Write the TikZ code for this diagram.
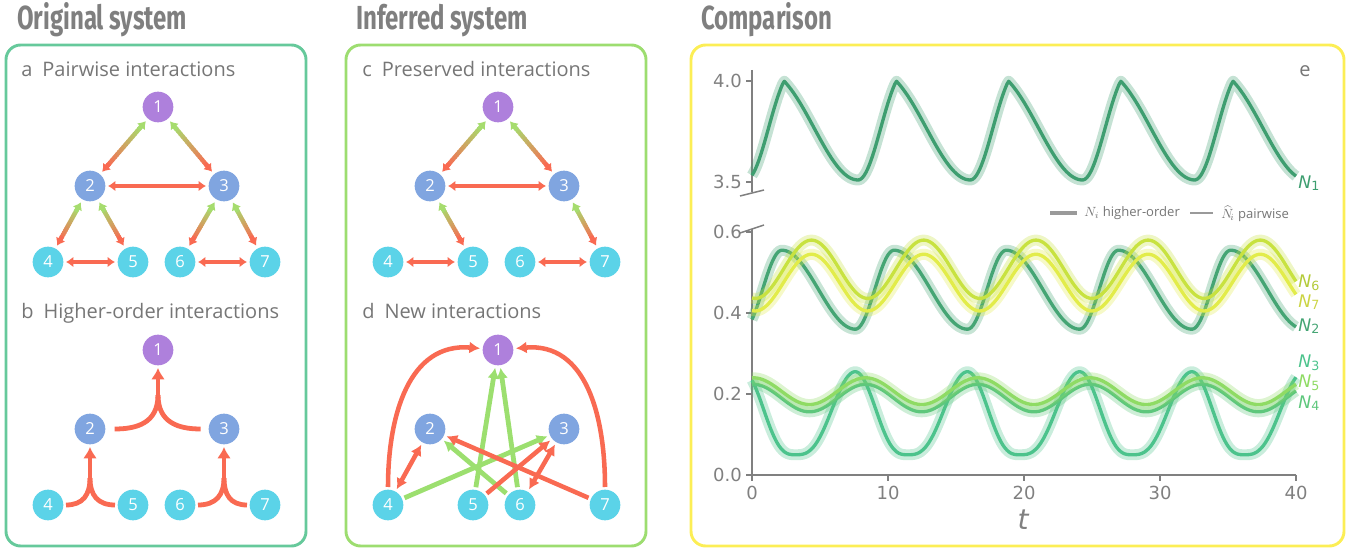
\documentclass[tikz,border=0pt]{standalone}
\usepackage{fontspec}
\setmainfont{Open Sans}
\newfontfamily\titlefont[FakeStretch=0.72]{Fira Sans}
\newfontfamily\plotfont{DejaVu Sans}
\usetikzlibrary{arrows.meta,calc}

\definecolor{boxorig}{HTML}{66C99B}
\definecolor{boxinf}{HTML}{9DDD70}
\definecolor{boxcmp}{HTML}{FCEE55}
\definecolor{titlegray}{HTML}{7F7F7F}
\definecolor{labelgray}{HTML}{767676}
\definecolor{nodepurple}{HTML}{AE80DC}
\definecolor{nodeblue}{HTML}{80A5E0}
\definecolor{nodecyan}{HTML}{5BD3E8}
\definecolor{edgegreen}{HTML}{A6DC6E}
\definecolor{edgered}{HTML}{F96A52}
\definecolor{newgreen}{HTML}{9CDF6F}
\definecolor{axisgray}{HTML}{808080}
\definecolor{cOne}{HTML}{3E9E70}
\definecolor{cTwo}{HTML}{45A574}
\definecolor{cThree}{HTML}{4CC38C}
\definecolor{cFour}{HTML}{5EC77C}
\definecolor{cFive}{HTML}{8FDB64}
\definecolor{cSix}{HTML}{C8E240}
\definecolor{cSeven}{HTML}{E2EC4A}

\tikzset{
  smalltip/.tip={Latex[length=5.5pt,width=8pt]},
  bigtip/.tip={Latex[length=8pt,width=9pt]},
  hypertip/.tip={Latex[length=8.5pt,width=10.5pt]},
  species/.style={circle, inner sep=0pt, minimum size=23pt, outer sep=2pt,
    text=white, font=\fontsize{12.4}{12.4}\selectfont},
  topsp/.style={species, fill=nodepurple},
  midsp/.style={species, fill=nodeblue},
  lowsp/.style={species, fill=nodecyan},
  panelbox/.style={line width=2.2pt, rounded corners=11pt},
  paneltitle/.style={anchor=base west, inner sep=0pt, text=titlegray,
    font=\titlefont\bfseries\fontsize{25}{25}\selectfont},
  panellabel/.style={anchor=base west, inner sep=0pt, text=labelgray,
    font=\fontsize{15}{15}\selectfont},
  pairlink/.style={edgered, line width=3.3pt, smalltip-smalltip},
  hyperline/.style={edgered, line width=3.6pt},
  newred/.style={edgered, line width=3.4pt},
  newgreenline/.style={newgreen, line width=3.6pt},
  ticklabel/.style={inner sep=0pt, text=axisgray, font=\plotfont\fontsize{13.5}{13.5}\selectfont},
  curvelabel/.style={anchor=west, inner sep=0pt},
  legendtext/.style={anchor=west, inner sep=0pt, text=labelgray, font=\fontsize{9.8}{9.8}\selectfont},
  hoband/.style={line width=8.2pt, opacity=0.3, line join=round},
  pwline/.style={line width=2.5pt, line join=round},
  declare function={
    skw(\p,\r)=ifthenelse(\p<\r, -cos(180*\p/\r), cos(180*(\p-\r)/(1-\r)));
    spk(\p,\r)=ifthenelse(\p<\r, 0.5*(1-cos(90*\p/\r))+0.25*(1-cos(180*\p/\r)),
      0.5*(1-sin(90*(\p-\r)/(1-\r)))+0.25*(1+cos(180*(\p-\r)/(1-\r))));
    ph(\t,\s)=mod(\t-\s+82.5,8.25)/8.25;
  }
}

% gradient double arrow: green end at #1, red end at #2
\newcommand{\gradlink}[2]{%
  \coordinate (gs) at ($(#1)!14pt!(#2)$);
  \coordinate (ge) at ($(#2)!14pt!(#1)$);
  \coordinate (gsb) at ($(gs)!4.5pt!(ge)$);
  \coordinate (geb) at ($(ge)!4.5pt!(gs)$);
  \foreach \k in {0,...,15}{
    \pgfmathsetmacro{\gmix}{100-\k*100/15}
    \draw[line width=3.3pt, edgegreen!\gmix!edgered]
      ($(gsb)!{\k/16}!(geb)$) -- ($(gsb)!{min(1,(\k+1.3)/16)}!(geb)$);
  }
  \draw[line width=3.3pt, edgegreen, -smalltip] ($(gs)!8pt!(ge)$) -- (gs);
  \draw[line width=3.3pt, edgered, -smalltip] ($(ge)!8pt!(gs)$) -- (ge);
}

% one species: higher-order band and pairwise line
\newcommand{\trace}[2]{%
  \draw[hoband, #1] plot[domain=0:40, samples=321] (\x, {#2});
  \draw[pwline, #1] plot[domain=0:40, samples=321] (\x, {#2});
}

\newcommand{\Nlab}[1]{{\plotfont\itshape\fontsize{13}{13}\selectfont N}\raisebox{-0.35ex}{\plotfont\fontsize{9.5}{9.5}\selectfont #1}}

\begin{document}
\begin{tikzpicture}[x=0.75pt, y=-0.75pt]
\useasboundingbox (0,0) rectangle (1356,548);

% panel frames and headings
\draw[panelbox, boxorig] (6,45) rectangle (306,546);
\draw[panelbox, boxinf] (346,45) rectangle (646,546);
\draw[panelbox, boxcmp] (691,45) rectangle (1344,546);
\node[paneltitle] (torig) at (17,30) {Original system};
\node[paneltitle] (tinf) at (356,30) {Inferred system};
\node[paneltitle] (tcmp) at (701,30) {Comparison};

\node[panellabel] (la) at (21,77) {a\enspace Pairwise interactions};
\node[panellabel] (lb) at (21,319) {b\enspace Higher-order interactions};
\node[panellabel] (lc) at (362,77) {c\enspace Preserved interactions};
\node[panellabel] (ld) at (362,319) {d\enspace New interactions};

% species in the four graphs
\foreach \p/\dx/\dy in {a/0/0, b/0/243, c/340/0, d/340/243}{
  \node[topsp] (\p1) at (158+\dx,107+\dy) {1};
  \node[midsp] (\p2) at (90+\dx,186+\dy) {2};
  \node[midsp] (\p3) at (224+\dx,186+\dy) {3};
  \node[lowsp] (\p4) at (48+\dx,262+\dy) {4};
  \node[lowsp] (\p5) at (133+\dx,262+\dy) {5};
  \node[lowsp] (\p6) at (180+\dx,262+\dy) {6};
  \node[lowsp] (\p7) at (265+\dx,262+\dy) {7};
}

% a: pairwise interactions
\gradlink{a1}{a2}
\gradlink{a1}{a3}
\gradlink{a2}{a4}
\gradlink{a2}{a5}
\gradlink{a3}{a6}
\gradlink{a3}{a7}
\draw[pairlink] (a2) -- (a3);
\draw[pairlink] (a4) -- (a5);
\draw[pairlink] (a6) -- (a7);

% b: higher-order interactions
\coordinate (bj1) at ($(b1)+(0,45)$);
\coordinate (bj2) at ($(b2)+(0,49)$);
\coordinate (bj3) at ($(b3)+(0,49)$);
\draw[hyperline, shorten <=5pt] (b2) to[out=0,in=-90,looseness=1.2] (bj1);
\draw[hyperline, shorten <=4pt] (b3) to[out=180,in=-90,looseness=1.2] (bj1);
\draw[hyperline, -hypertip] (bj1) -- (b1);
\draw[hyperline] (b4) to[out=0,in=-90,looseness=1.2] (bj2);
\draw[hyperline] (b5) to[out=180,in=-90,looseness=1.2] (bj2);
\draw[hyperline, -hypertip] (bj2) -- (b2);
\draw[hyperline] (b6) to[out=0,in=-90,looseness=1.2] (bj3);
\draw[hyperline] (b7) to[out=180,in=-90,looseness=1.2] (bj3);
\draw[hyperline, -hypertip] (bj3) -- (b3);

% c: preserved interactions
\gradlink{c1}{c2}
\gradlink{c1}{c3}
\gradlink{c2}{c5}
\gradlink{c3}{c7}
\draw[pairlink] (c2) -- (c3);
\draw[pairlink] (c4) -- (c5);
\draw[pairlink] (c6) -- (c7);

% d: new interactions
\draw[newgreenline, -bigtip] (d5) -- (d1);
\draw[newgreenline, -bigtip] (d6) -- (d1);
\draw[newgreenline, -bigtip] (d4) -- (d3);
\draw[newgreenline, -bigtip] (d6) -- (d2);
\draw[newred, -bigtip] (d4) to[out=90,in=175,looseness=1.1] (d1);
\draw[newred, -bigtip] (d7) to[out=90,in=5,looseness=1.1] (d1);
\draw[newred, -bigtip] (d7) -- (d2);
\draw[newred, -bigtip] (d5) -- (d3);
\draw[newred, bigtip-bigtip] (d2) -- (d4);
\draw[newred, bigtip-bigtip] (d3) -- (d6);

% e: axes
\draw[axisgray, line width=1.1pt] (752,70) -- (752,192);
\draw[axisgray, line width=1.1pt] (740,196) -- (764,190);
\draw[axisgray, line width=1.1pt] (740,233) -- (764,225);
\draw[axisgray, line width=1.1pt] (752,229) -- (752,475) -- (1296,475);
\foreach \v/\yy in {4.0/81, 3.5/182, 0.6/232, 0.4/313, 0.2/394, 0.0/475}{
  \draw[axisgray, line width=1.1pt] (746,\yy) -- (752,\yy);
  \node[ticklabel, anchor=east] (yt\yy) at (742,\yy) {\v};
}
\foreach \t in {0,10,20,30,40}{
  \draw[axisgray, line width=1.1pt] (752+13.6*\t,475) -- (752+13.6*\t,481);
  \node[ticklabel, anchor=north] (xt\t) at (752+13.6*\t,486) {\t};
}
\node[inner sep=0pt, text=axisgray, font=\plotfont\itshape\fontsize{21}{21}\selectfont] (tlab) at (1023,520) {t};
\node[inner sep=0pt, text=labelgray, font=\fontsize{15}{15}\selectfont] (le) at (1305,71) {e};

% e: time series
\begin{scope}[shift={(752,182)}, x=10.2pt, y=151.5pt]
  \trace{cOne}{0.01+0.49*spk(ph(\x,-0.45),0.34)}
\end{scope}
\begin{scope}[shift={(752,475)}, x=10.2pt, y=303.75pt]
  \trace{cTwo}{0.4575+0.0975*skw(ph(\x,-0.65),0.345)}
  \trace{cSix}{0.508-0.072*cos(360*(\x-0.25)/8.25)}
  \trace{cSeven}{0.475-0.07*cos(360*(\x-0.25)/8.25)}
  \trace{cThree}{0.05+0.205*(0.5001+0.5*skw(ph(\x,3.2),0.533))^1.5}
  \trace{cFour}{0.19+0.034*cos(360*(\x-0.1)/8.25)}
  \trace{cFive}{0.207+0.033*cos(360*(\x-0.1)/8.25)}
\end{scope}

% curve names
\node[curvelabel, text=cOne] (n1) at (1298,183) {\Nlab{1}};
\node[curvelabel, text=cSix!90!black] (n6) at (1298,283) {\Nlab{6}};
\node[curvelabel, text=cSeven!90!black] (n7) at (1298,302) {\Nlab{7}};
\node[curvelabel, text=cTwo] (n2) at (1298,326) {\Nlab{2}};
\node[curvelabel, text=cThree] (n3) at (1298,363) {\Nlab{3}};
\node[curvelabel, text=cFive] (n5) at (1298,383) {\Nlab{5}};
\node[curvelabel, text=cFour] (n4) at (1298,403) {\Nlab{4}};

% legend
\coordinate (lg1a) at (1050,213);
\coordinate (lg1b) at (1077,213);
\coordinate (lg2a) at (1190,213);
\coordinate (lg2b) at (1213,213);
\draw[line width=3pt, axisgray!80] (lg1a) -- (lg1b);
\draw[line width=1.1pt, axisgray!80] (lg2a) -- (lg2b);
\node[legendtext] (lgt1) at (1084,213) {$N_i$ higher-order};
\node[legendtext] (lgt2) at (1221,214) {$\widehat{N}_{\!i}$ pairwise};
\end{tikzpicture}
\end{document}
